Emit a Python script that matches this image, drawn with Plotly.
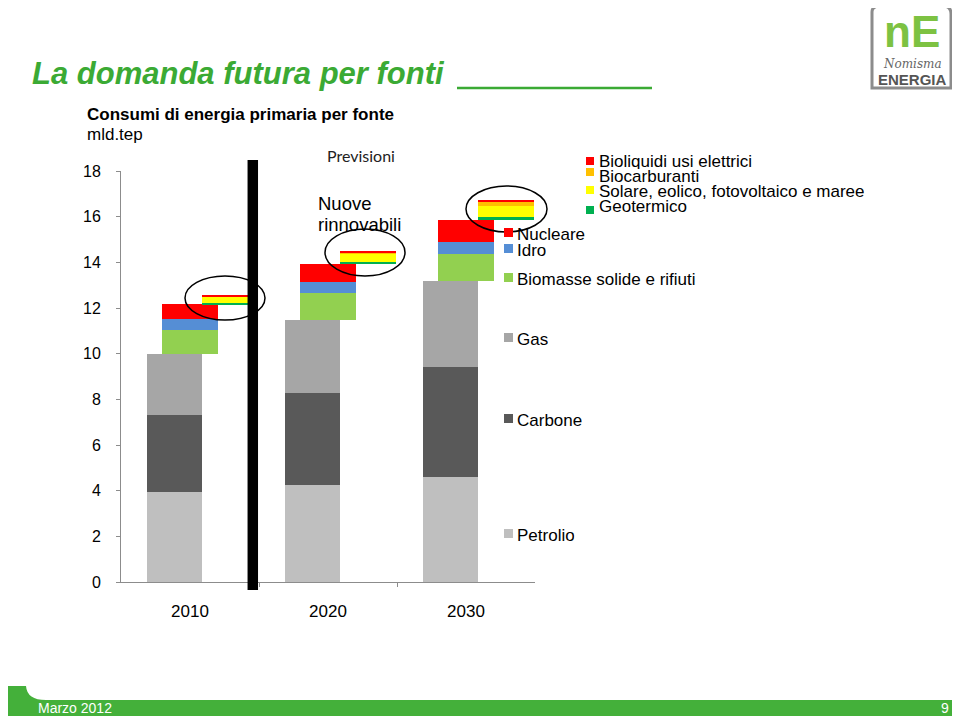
import plotly.graph_objects as go

# ---------------- data ----------------
years = ['2010', '2020', '2030']
petrolio = [3.94, 4.26, 4.59]
carbone = [3.37, 4.00, 4.82]
gas = [2.67, 3.21, 3.79]
biomasse = [1.05, 1.17, 1.17]
idro = [0.48, 0.51, 0.51]
nucleare = [0.66, 0.76, 0.98]
geotermico = [0.07, 0.12, 0.12]
solare = [0.26, 0.37, 0.47]
biocarburanti = [0.02, 0.04, 0.22]
bioliquidi = [0.02, 0.04, 0.04]

colors = {
    'Petrolio': '#BFBFBF', 'Carbone': '#595959', 'Gas': '#A6A6A6',
    'Biomasse': '#92D050', 'Idro': '#558ED5', 'Nucleare': '#FF0000',
    'Geotermico': '#00B050', 'Solare': '#FFFF00', 'Biocarburanti': '#FFC000',
    'Bioliquidi': '#FF0000',
}

FONT = 'Arial, Liberation Sans, sans-serif'
OFF = 8  # page body margin in the browser
W, H = 960 - OFF, 716 - OFF
L, R, T, B = 121, 535, 171, 582  # plot area in screen pixels


def px(x):
    return (x - L) / (R - L)


def py(y):
    return (B - y) / (B - T)


idx = list(range(len(years)))
x_main = [i - 0.115 for i in idx]
x_mid = [i + 0.0 for i in idx]
x_ren = [i + 0.29 for i in idx]
bw = 0.4

fig = go.Figure()


def stack(xs, series, start):
    base = list(start)
    for name, vals in series:
        fig.add_trace(go.Bar(x=xs, y=vals, base=base, width=bw, name=name,
                             marker=dict(color=colors[name], line=dict(width=0)),
                             showlegend=False, hoverinfo='skip'))
        base = [b + v for b, v in zip(base, vals)]
    return base


top_main = stack(x_main, [('Petrolio', petrolio), ('Carbone', carbone), ('Gas', gas)], [0, 0, 0])
top_mid = stack(x_mid, [('Biomasse', biomasse), ('Idro', idro), ('Nucleare', nucleare)], top_main)
stack(x_ren, [('Geotermico', geotermico), ('Solare', solare),
              ('Biocarburanti', biocarburanti), ('Bioliquidi', bioliquidi)], top_mid)

shapes = []
annotations = []

# black separator bar
shapes.append(dict(type='rect', xref='x', yref='paper', x0=0.417, x1=0.493,
                   y0=py(590), y1=py(160), fillcolor='black', line=dict(width=0)))

# ellipses
for (x0, x1, y0, y1) in [(185, 265, 276, 320), (325, 405, 229, 276), (466, 547, 186, 232)]:
    shapes.append(dict(type='circle', xref='paper', yref='paper', x0=px(x0), x1=px(x1),
                       y0=py(y1), y1=py(y0), line=dict(color='black', width=1.5)))

# title underline
shapes.append(dict(type='line', xref='paper', yref='paper', x0=px(457), x1=px(652),
                   y0=py(88), y1=py(88), line=dict(color='#3BAA34', width=2.5)))

# footer band
shapes.append(dict(type='rect', xref='paper', yref='paper', x0=px(0), x1=px(970),
                   y0=py(720), y1=py(700), fillcolor='#44B03A', line=dict(width=0)))
shapes.append(dict(type='path', xref='paper', yref='paper',
                   path=f'M {px(0)},{py(686)} L {px(26)},{py(686)} Q {px(27)},{py(700)} {px(46)},{py(700)} L {px(0)},{py(700)} Z',
                   fillcolor='#44B03A', line=dict(width=0)))

# logo frame
shapes.append(dict(type='path', xref='paper', yref='paper',
                   path=(f'M {px(872)},{py(12)} L {px(872)},{py(88)} L {px(951)},{py(88)} '
                         f'L {px(951)},{py(14)} Q {px(951)},{py(6)} {px(943)},{py(6)} L {px(880)},{py(6)} '
                         f'Q {px(872)},{py(6)} {px(872)},{py(12)} Z'),
                   line=dict(color='#8C8C8C', width=3)))


def text(x, y, s, size=16, color='black', anchor='left', bold=False, italic=False,
         family=FONT, yanchor='middle', height=None):
    if bold:
        s = f'<b>{s}</b>'
    if italic:
        s = f'<i>{s}</i>'
    a = dict(xref='paper', yref='paper', x=px(x), y=py(y), text=s, showarrow=False,
             xanchor=anchor, yanchor=yanchor,
             font=dict(size=size, color=color, family=family))
    if height:
        a['height'] = height
    annotations.append(a)


def marker(x0, y0, x1, y1, color):
    shapes.append(dict(type='rect', xref='paper', yref='paper', x0=px(x0), x1=px(x1),
                       y0=py(y1), y1=py(y0), fillcolor=color, line=dict(width=0)))


# titles
text(30, 73, 'La domanda futura per fonti', size=31, color='#3BAA34', bold=True, italic=True)
text(85, 115, 'Consumi di energia primaria per fonte', size=17, bold=True)
text(85, 134, 'mld.tep', size=17)
text(361, 155, 'Previsioni', size=16, anchor='center', family='Lato, sans-serif', color='#222')
text(316, 203, 'Nuove', size=18.5)
text(316, 225, 'rinnovabili', size=18.5)

# upper legend
leg_up = [('Bioliquidi usi elettrici', 'Bioliquidi', 161, (157, 165)),
          ('Biocarburanti', 'Biocarburanti', 176, (168, 176)),
          ('Solare, eolico, fotovoltaico e maree', 'Solare', 191, (186, 194)),
          ('Geotermico', 'Geotermico', 206, (206, 214))]
for lab, key, yc, (m0, m1) in leg_up:
    marker(586, m0, 594, m1, colors[key])
    text(597, yc, lab, size=17, height=15)

# lower legend
leg_lo = [('Nucleare', 'Nucleare', 234), ('Idro', 'Idro', 250),
          ('Biomasse solide e rifiuti', 'Biomasse', 279), ('Gas', 'Gas', 339),
          ('Carbone', 'Carbone', 420), ('Petrolio', 'Petrolio', 535)]
for lab, key, yc in leg_lo:
    marker(504, yc - 6, 513, yc + 3, colors[key])
    text(515, yc, lab, size=17, height=16)

# footer text
text(36, 708, 'Marzo 2012', size=14, color='white', height=14)
text(951, 708, '9', size=14, color='white', anchor='right', height=14)

# logo
text(912, 31, 'nE', size=44, color='#7DC242', anchor='center', bold=True, height=40)
text(912, 64, 'Nomisma', size=12, color='#666', anchor='center', italic=True,
     family='DejaVu Serif, serif', height=12)
text(912, 79, 'ENERGIA', size=15, color='#555', anchor='center', bold=True, height=14)

fig.update_layout(
    width=W, height=H,
    margin=dict(l=L - OFF, r=W - (R - OFF), t=T - OFF, b=H - (B - OFF), pad=0),
    paper_bgcolor='white', plot_bgcolor='white',
    barmode='overlay', bargap=0,
    shapes=shapes, annotations=annotations,
    showlegend=False,
    font=dict(family=FONT, size=16, color='black'),
    xaxis=dict(range=[-0.5, 2.5], tickvals=idx, ticktext=years, ticks='',
               showline=True, linecolor='#8C8C8C', linewidth=1, showgrid=False, zeroline=False,
               tickfont=dict(size=17, family=FONT, color='black'), ticklabelstandoff=14,
               minor=dict(tickvals=[0.5, 1.5], ticks='outside', ticklen=4, tickcolor='#8C8C8C')),
    yaxis=dict(range=[0, 18], tickvals=list(range(0, 19, 2)), ticks='outside', ticklen=4,
               tickcolor='#8C8C8C', showline=True, linecolor='#8C8C8C', linewidth=1,
               showgrid=False, zeroline=False, ticklabelstandoff=12,
               tickfont=dict(size=16, family=FONT, color='black')),
)

fig.write_html('out.html')
